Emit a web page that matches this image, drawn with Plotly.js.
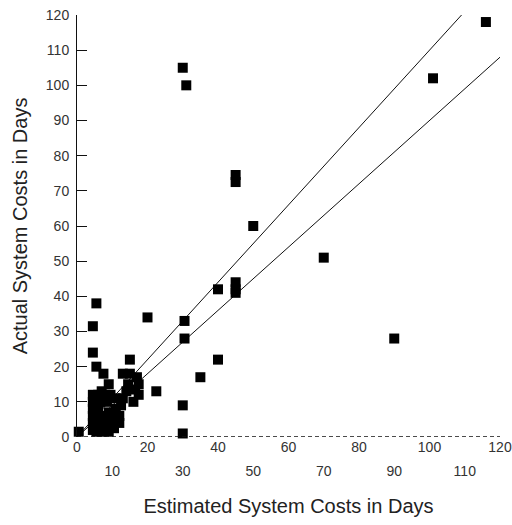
<!DOCTYPE html>
<html>
<head>
<meta charset="utf-8">
<script src="https://cdn.plot.ly/plotly-3.0.1.min.js"></script>
<style>html,body{margin:0;padding:0;background:#fff;}#chart{width:512px;height:525px;}</style>
</head>
<body>
<div id="chart"></div>
<script>
// Estimated vs actual system costs (days)
const estimated = [30, 31, 116, 101, 45, 45, 50, 70, 40, 45, 45, 45, 30.5, 30.5, 40, 35, 30, 30, 90, 20,
  0.5, 5.5, 4.5, 4.5, 5.5, 7.5, 9, 15, 13, 15, 17, 17.5, 22.5, 14.5, 14, 13, 11, 9.5, 4.5, 4.5, 6.5, 8.5,
  4.5, 6, 11, 12.5, 4.5, 4.5, 4.5, 6.5, 6.5, 8.5, 8.5, 10, 10, 7, 17.5, 16,
  5.5, 7.5, 7.5, 9, 6, 8, 11, 12, 9, 5.5, 10.5, 16.5, 12, 7];
const actual = [105, 100, 118, 102, 74.5, 72.5, 60, 51, 42, 44, 42, 41, 33, 28, 22, 17, 9, 1, 28, 34,
  1.5, 38, 31.5, 24, 20, 18, 15, 22, 18, 18, 17, 12, 13, 15, 13, 11, 11, 12, 12, 10, 10, 10,
  8, 8, 8, 9, 6, 4, 2, 5, 3, 5, 3, 4, 6, 1.5, 15, 10,
  6, 6, 4, 7, 12, 12, 5, 6, 1.5, 1.5, 2.5, 13.5, 4, 13];
// reference lines: actual = slope * estimated (±10%)
const bandSlopes = [1.1, 0.9];
const axisMax = 120;
const xTicksMajor = [0, 20, 40, 60, 80, 100, 120];
const xTicksMinor = [10, 30, 50, 70, 90, 110];
const yTicks = [0, 10, 20, 30, 40, 50, 60, 70, 80, 90, 100, 110, 120];

const lineTraces = bandSlopes.map(s => {
  const xEnd = Math.min(axisMax, axisMax / s);
  return {x: [0, xEnd], y: [0, s * xEnd], mode: 'lines', type: 'scatter',
    line: {color: '#111', width: 1}, hoverinfo: 'skip', showlegend: false};
});

const pts = {x: estimated, y: actual, mode: 'markers', type: 'scatter',
  marker: {symbol: 'square', size: 10, color: '#000'}, cliponaxis: false, showlegend: false};

const tickFont = {family: 'Liberation Sans Narrow, Liberation Sans, Arial, sans-serif', size: 14, color: '#333'};
const titleFont = {family: 'Liberation Sans, Arial, sans-serif', size: 20, color: '#222'};

const layout = {
  width: 512, height: 525,
  margin: {l: 77, r: 12, t: 15, b: 88},
  paper_bgcolor: '#fff', plot_bgcolor: '#fff',
  xaxis: {range: [0, axisMax], tickvals: xTicksMajor, ticktext: xTicksMajor.map(String),
    showgrid: false, zeroline: false, showline: false, ticks: '', tickfont: tickFont,
    title: {text: 'Estimated System Costs in Days', font: titleFont, standoff: 44}},
  xaxis2: {range: [0, axisMax], overlaying: 'x', anchor: 'y', side: 'bottom',
    tickvals: xTicksMinor, ticktext: xTicksMinor.map(String), ticklabelstandoff: 24,
    showgrid: false, zeroline: false, showline: false, ticks: '', tickfont: tickFont},
  yaxis: {range: [0, axisMax], tickvals: yTicks, ticktext: yTicks.map(String),
    showgrid: false, zeroline: false, showline: true, linecolor: '#111', linewidth: 1,
    ticks: 'inside', ticklen: 10, tickcolor: '#111', tickfont: tickFont, ticklabelstandoff: 4,
    title: {text: 'Actual System Costs in Days', font: titleFont, standoff: 12}},
  shapes: [{type: 'line', xref: 'x', yref: 'y', x0: 0, x1: axisMax, y0: 0, y1: 0,
    line: {color: '#111', width: 1.5, dash: '4px,3px'}}],
  showlegend: false
};

const dummy = {x: [0], y: [0], xaxis: 'x2', mode: 'markers', marker: {opacity: 0}, hoverinfo: 'skip', showlegend: false};

Plotly.newPlot('chart', [...lineTraces, pts, dummy], layout, {staticPlot: true});
</script>
</body>
</html>
